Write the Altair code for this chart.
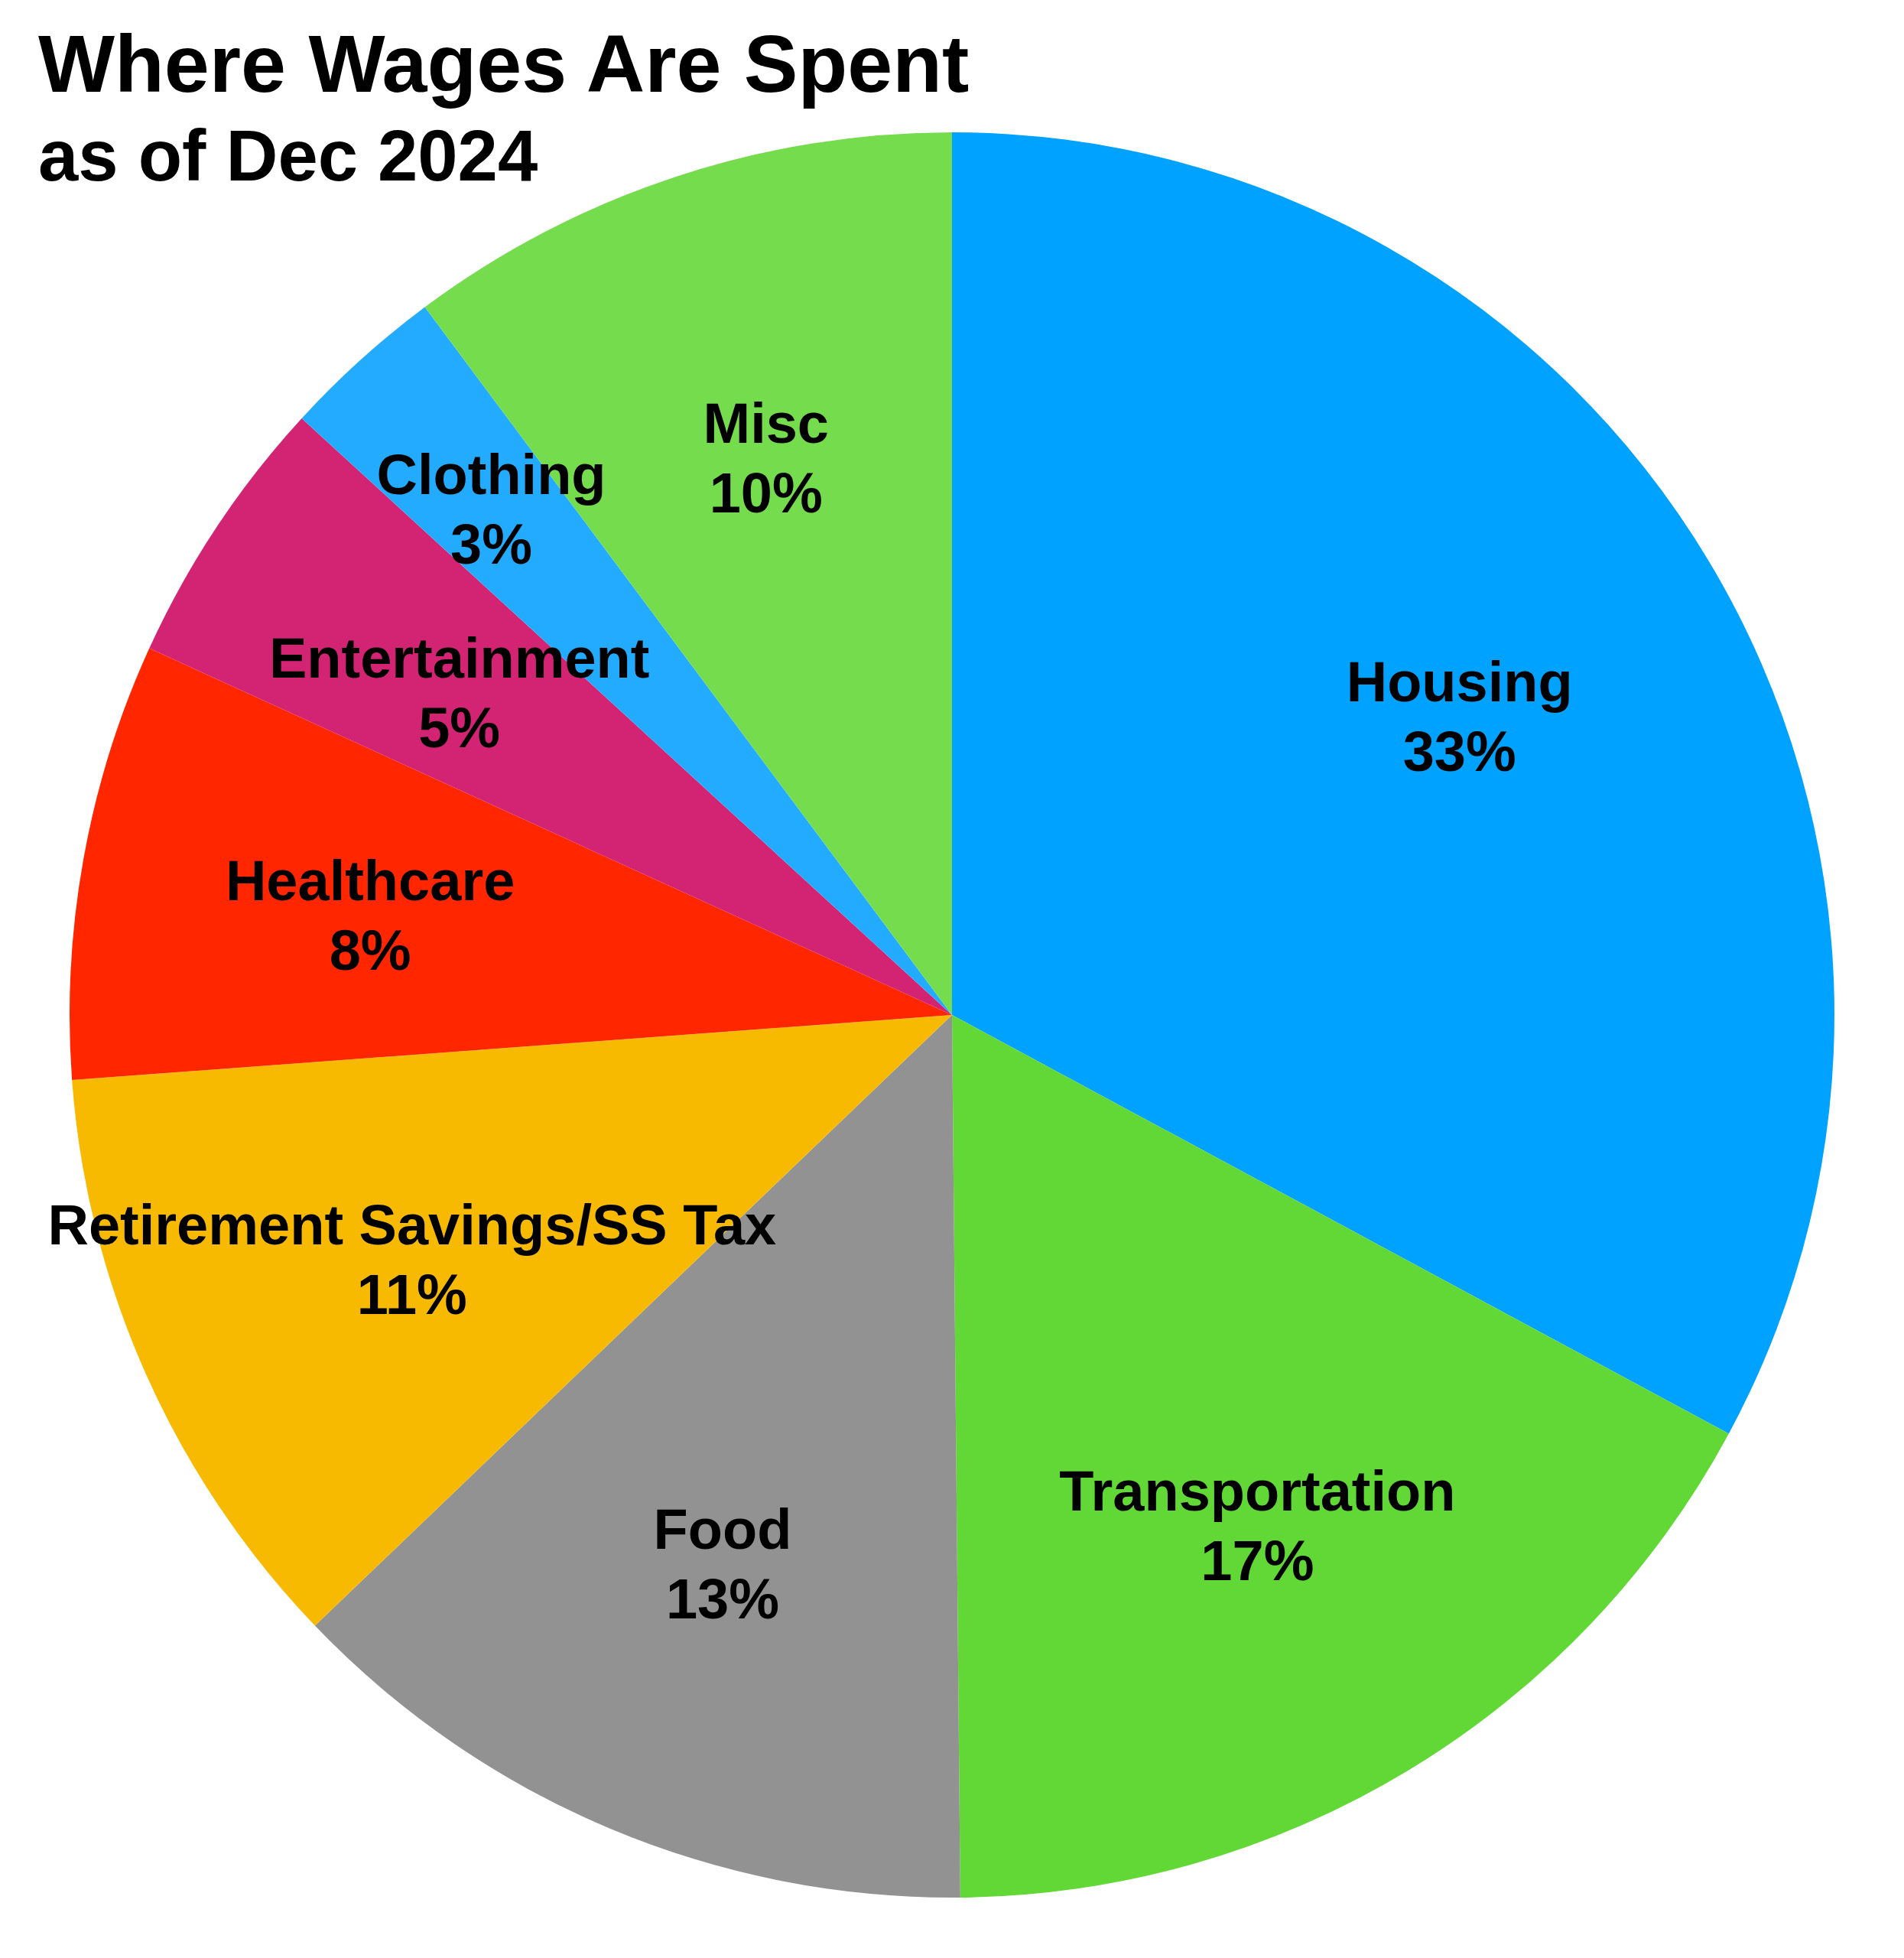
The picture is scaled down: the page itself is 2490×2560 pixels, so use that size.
import math
import altair as alt
import pandas as pd

categories = ["Housing", "Transportation", "Food", "Retirement Savings/SS Tax",
              "Healthcare", "Entertainment", "Clothing", "Misc"]
shares = [32.9, 17.0, 13.0, 11.0, 8.0, 5.0, 3.0, 10.2]
pct_labels = ["33%", "17%", "13%", "11%", "8%", "5%", "3%", "10%"]
colors = ["#00A2FF", "#61D836", "#929292", "#F8BA00",
          "#FF2600", "#D22473", "#23ACFF", "#75DC4E"]

title_text = "Where Wages Are Spent"
subtitle_text = "as of Dec 2024"

df = pd.DataFrame({
    "category": categories,
    "share": shares,
    "pct": pct_labels,
    "idx": list(range(len(categories))),
})
total = float(sum(shares))

W, H = 2474, 2544
CX, CY, R = 1237, 1319, 1154
FONT = "Liberation Sans"

pie = alt.Chart(df).mark_arc(stroke=None).encode(
    theta=alt.Theta("share:Q", stack=True),
    order=alt.Order("idx:Q", sort="ascending"),
    x=alt.value(CX), y=alt.value(CY),
    radius=alt.value(R),
    color=alt.Color("category:N", scale=alt.Scale(domain=categories, range=colors), legend=None),
)

labels = alt.Chart(df).transform_window(
    cum="sum(share)", sort=[alt.SortField("idx", order="ascending")],
    frame=[None, 0],
).transform_calculate(
    mid="datum.cum - datum.share / 2",
    label="datum.category + '\\n' + datum.pct",
    lr="datum.category == 'Clothing' ? 899 : 773",
).mark_text(
    font=FONT, fontWeight="bold", fontSize=74, lineHeight=91, dy=-36,
    lineBreak="\n", align="center", baseline="middle", color="black",
).encode(
    theta=alt.Theta("mid:Q", stack=False,
                    scale=alt.Scale(domain=[0, total], range=[0, 2 * math.pi])),
    x=alt.value(CX), y=alt.value(CY),
    radius=alt.Radius("lr:Q", scale=None),
    text="label:N",
)

tdf = pd.DataFrame({"t": [title_text]})
sdf = pd.DataFrame({"t": [subtitle_text]})

title = alt.Chart(tdf).mark_text(
    font=FONT, fontWeight="bold", fontSize=106, align="left", baseline="alphabetic", color="black"
).encode(x=alt.value(42), y=alt.value(112), text="t:N")

subtitle = alt.Chart(sdf).mark_text(
    font=FONT, fontWeight="bold", fontSize=94, align="left", baseline="alphabetic", color="black"
).encode(x=alt.value(42), y=alt.value(228), text="t:N")

chart = alt.layer(pie, labels, title, subtitle).properties(
    width=W, height=H, padding=0, autosize=alt.AutoSizeParams(type="none"),
    background="white",
).configure_view(stroke=None)

chart.save("out.html", embed_options={"renderer": "svg", "actions": False})
